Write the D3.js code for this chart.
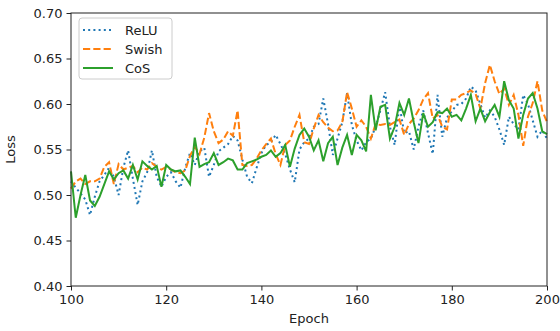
<!DOCTYPE html>
<html lang="en">
<head>
    <meta charset="UTF-8">
    <title>Loss per epoch: ReLU vs Swish vs CoS</title>
    <script src="https://d3js.org/d3.v7.min.js"></script>
    <style>
        body { margin: 0; background: #fff; }
        text { font-family: "DejaVu Sans", sans-serif; fill: #222; }
        .axis path, .axis line { stroke: #222; }
    </style>
</head>
<body>
    <svg width="560" height="331"></svg>
    <script>
        // epochs 100..200
        const epochs = d3.range(100, 201);

        const relu = [
            0.515, 0.508, 0.502, 0.495, 0.478, 0.498, 0.515, 0.522, 0.530, 0.520,
            0.500, 0.530, 0.549, 0.518, 0.489, 0.515, 0.525, 0.549, 0.520, 0.509,
            0.520, 0.525, 0.515, 0.508, 0.530, 0.546, 0.533, 0.548, 0.552, 0.520,
            0.533, 0.548, 0.552, 0.556, 0.565, 0.560, 0.539, 0.520, 0.513, 0.530,
            0.546, 0.555, 0.558, 0.566, 0.556, 0.545, 0.528, 0.514, 0.550, 0.558,
            0.562, 0.575, 0.578, 0.606, 0.578, 0.544, 0.562, 0.580, 0.612, 0.577,
            0.560, 0.549, 0.558, 0.562, 0.575, 0.593, 0.613, 0.575, 0.555, 0.599,
            0.568, 0.570, 0.550, 0.575, 0.593, 0.568, 0.545, 0.610, 0.564, 0.585,
            0.592, 0.599, 0.600, 0.606, 0.619, 0.615, 0.600, 0.585, 0.593, 0.586,
            0.572, 0.555, 0.586, 0.578, 0.572, 0.610, 0.600, 0.582, 0.564, 0.571,
            0.562
        ];

        const swish = [
            0.507, 0.515, 0.518, 0.512, 0.515, 0.515, 0.518, 0.531, 0.536, 0.512,
            0.534, 0.528, 0.530, 0.532, 0.525, 0.530, 0.528, 0.535, 0.531, 0.528,
            0.531, 0.528, 0.525, 0.524, 0.527, 0.543, 0.553, 0.545, 0.563, 0.590,
            0.570, 0.557, 0.561, 0.570, 0.565, 0.593, 0.533, 0.532, 0.533, 0.540,
            0.549, 0.556, 0.562, 0.545, 0.533, 0.555, 0.560, 0.575, 0.588, 0.558,
            0.556, 0.573, 0.588, 0.580, 0.574, 0.570, 0.571, 0.580, 0.613, 0.595,
            0.575, 0.582, 0.575, 0.562, 0.578, 0.577, 0.578, 0.577, 0.580, 0.583,
            0.566, 0.578, 0.584, 0.593, 0.605, 0.612, 0.584, 0.588, 0.575, 0.572,
            0.605, 0.605, 0.610, 0.612, 0.615, 0.611, 0.595, 0.623, 0.643, 0.625,
            0.611, 0.617, 0.599, 0.610, 0.588, 0.554, 0.586, 0.601, 0.625, 0.593,
            0.580
        ];

        const cos = [
            0.526, 0.475, 0.500, 0.522, 0.494, 0.488, 0.498, 0.512, 0.526, 0.517,
            0.524, 0.527, 0.518, 0.533, 0.517, 0.537, 0.532, 0.528, 0.532, 0.509,
            0.533, 0.528, 0.526, 0.527, 0.520, 0.512, 0.563, 0.531, 0.534, 0.536,
            0.546, 0.533, 0.536, 0.540, 0.538, 0.528, 0.528, 0.535, 0.537, 0.539,
            0.542, 0.544, 0.549, 0.542, 0.546, 0.555, 0.531, 0.551, 0.566, 0.573,
            0.564, 0.549, 0.560, 0.537, 0.557, 0.564, 0.533, 0.552, 0.566, 0.544,
            0.566, 0.560, 0.548, 0.610, 0.571, 0.597, 0.599, 0.562, 0.575, 0.601,
            0.588, 0.606, 0.580, 0.557, 0.590, 0.575, 0.580, 0.591, 0.590, 0.595,
            0.586, 0.588, 0.582, 0.595, 0.610, 0.581, 0.595, 0.581, 0.591, 0.599,
            0.586, 0.625, 0.604, 0.595, 0.562, 0.588, 0.606, 0.612, 0.595, 0.570,
            0.567
        ];

        const seriesNames = ["ReLU", "Swish", "CoS"];
        const xTicks = [100, 120, 140, 160, 180, 200];
        const yTicks = [0.40, 0.45, 0.50, 0.55, 0.60, 0.65, 0.70];

        const svg = d3.select("svg");
        const margin = { top: 13, right: 13, bottom: 45, left: 71 };
        const width = 560 - margin.left - margin.right;
        const height = 331 - margin.top - margin.bottom;

        const g = svg.append("g")
            .attr("transform", `translate(${margin.left},${margin.top})`);

        const x = d3.scaleLinear().domain([100, 200]).range([0, width]);
        const y = d3.scaleLinear().domain([0.40, 0.70]).range([height, 0]);

        const series = [
            { name: seriesNames[0], values: relu, color: "#1f77b4", dash: "2,3.2" },
            { name: seriesNames[1], values: swish, color: "#ff7f0e", dash: "7.2,3.1" },
            { name: seriesNames[2], values: cos, color: "#2ca02c", dash: null }
        ];

        const line = d3.line()
            .x((d, i) => x(epochs[i]))
            .y(d => y(d));

        g.append("g")
            .selectAll("path")
            .data(series)
            .enter().append("path")
            .attr("d", d => line(d.values))
            .attr("fill", "none")
            .attr("stroke", d => d.color)
            .attr("stroke-width", 2)
            .attr("stroke-dasharray", d => d.dash);

        // axes
        const xAxis = g.append("g")
            .attr("class", "axis")
            .attr("transform", `translate(0,${height})`)
            .call(d3.axisBottom(x).tickValues(xTicks).tickSize(4.5).tickPadding(4));
        const yAxis = g.append("g")
            .attr("class", "axis")
            .call(d3.axisLeft(y).tickValues(yTicks).tickFormat(d3.format(".2f")).tickSize(4.5).tickPadding(4));
        [xAxis, yAxis].forEach(a => {
            a.select(".domain").remove();
            a.selectAll("text").attr("font-size", 13).attr("font-family", "DejaVu Sans").attr("fill", "#222");
        });

        // spines
        g.append("rect")
            .attr("width", width)
            .attr("height", height)
            .attr("fill", "none")
            .attr("stroke", "#222")
            .attr("stroke-width", 1);

        g.append("text")
            .attr("x", width / 2)
            .attr("y", height + 37)
            .attr("text-anchor", "middle")
            .attr("font-size", 13)
            .text("Epoch");

        g.append("text")
            .attr("transform", `translate(${-56},${height / 2}) rotate(-90)`)
            .attr("text-anchor", "middle")
            .attr("font-size", 13)
            .text("Loss");

        // legend
        const legend = g.append("g").attr("transform", "translate(8,5)");
        legend.append("rect")
            .attr("width", 93)
            .attr("height", 61)
            .attr("rx", 3)
            .attr("fill", "#fff")
            .attr("fill-opacity", 0.8)
            .attr("stroke", "#ccc");
        const item = legend.selectAll(".item")
            .data(series)
            .enter().append("g")
            .attr("transform", (d, i) => `translate(0,${12 + i * 19})`);
        item.append("line")
            .attr("x1", 4).attr("x2", 34)
            .attr("stroke", d => d.color)
            .attr("stroke-width", 2)
            .attr("stroke-dasharray", d => d.dash);
        item.append("text")
            .attr("x", 46)
            .attr("dy", "0.35em")
            .attr("font-size", 13)
            .text(d => d.name);
    </script>
</body>
</html>
